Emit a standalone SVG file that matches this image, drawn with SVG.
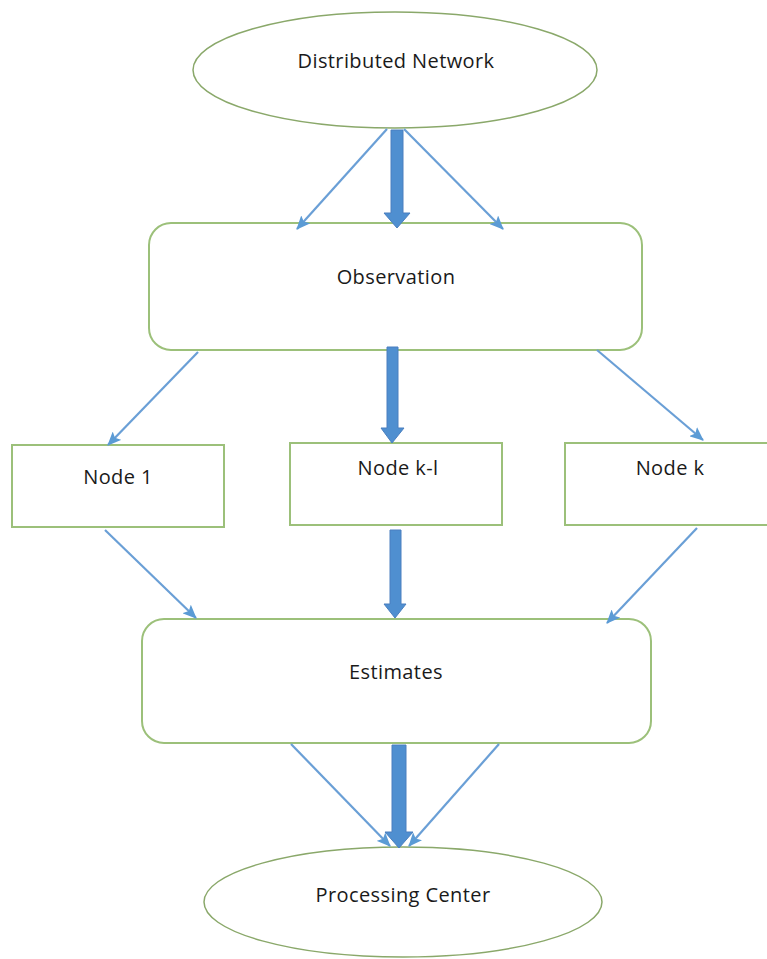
<svg xmlns="http://www.w3.org/2000/svg" width="767" height="959" viewBox="0 0 767 959">
<style>
.shape{fill:#ffffff;stroke:#9cc07a;stroke-width:2}
.oval{fill:#ffffff;stroke:#8aa86a;stroke-width:1.5}
.lbl{font-family:"Open Sans","Noto Sans","DejaVu Sans",sans-serif;font-size:20px;letter-spacing:0.4px;fill:#1a1a1a;text-anchor:middle}
.thin{stroke:#6a9fd6;stroke-width:2.2;fill:none;marker-end:url(#ah)}
.thick{fill:#4f8fd0;stroke:#4a7fbf;stroke-width:1}
</style>
<defs>
<marker id="ah" viewBox="0 0 14 12" refX="13" refY="6" markerWidth="14" markerHeight="12" markerUnits="userSpaceOnUse" orient="auto">
<path d="M0,0 L14,6 L0,12 L3,6 z" fill="#5b9bd5"/>
</marker>
</defs>
<rect width="767" height="959" fill="#ffffff"/>
<g id="distributed-network">
<ellipse class="oval" cx="395" cy="70" rx="202" ry="58"/>
<text class="lbl" x="396" y="68">Distributed Network</text>
</g>
<g id="observation">
<rect class="shape" x="149" y="223" width="493" height="127" rx="22"/>
<text class="lbl" x="396" y="284">Observation</text>
</g>
<g id="node-1">
<rect class="shape" x="12" y="445" width="212" height="82"/>
<text class="lbl" x="118" y="484">Node  1</text>
</g>
<g id="node-k-l">
<rect class="shape" x="290" y="443" width="212" height="82"/>
<text class="lbl" x="398" y="475">Node  k-l</text>
</g>
<g id="node-k">
<rect class="shape" x="565" y="443" width="210" height="82"/>
<text class="lbl" x="670" y="475">Node  k</text>
</g>
<g id="estimates">
<rect class="shape" x="142" y="619" width="509" height="124" rx="22"/>
<text class="lbl" x="396" y="679">Estimates</text>
</g>
<g id="processing-center">
<ellipse class="oval" cx="403" cy="902" rx="199" ry="55"/>
<text class="lbl" x="403" y="902">Processing Center</text>
</g>
<g id="connectors">
<line class="thin" x1="387" y1="129" x2="297" y2="229"/>
<line class="thin" x1="404" y1="129" x2="503" y2="229"/>
<polygon class="thick" points="391,130 403,130 403,213 410,213 397,228 384,213 391,213"/>
<line class="thin" x1="198" y1="352" x2="108" y2="445"/>
<polygon class="thick" points="387,347 398,347 398,428 404,428 392,443 381,428 387,428"/>
<line class="thin" x1="597" y1="350" x2="703" y2="440"/>
<line class="thin" x1="105" y1="530" x2="196" y2="618"/>
<polygon class="thick" points="390,530 401,530 401,604 406,604 395,618 384,604 390,604"/>
<line class="thin" x1="697" y1="528" x2="607" y2="623"/>
<line class="thin" x1="291" y1="744" x2="390" y2="846"/>
<line class="thin" x1="499" y1="744" x2="409" y2="846"/>
<polygon class="thick" points="392,745 406,745 406,832 413,832 399,848 385,832 392,832"/>
</g>
</svg>
